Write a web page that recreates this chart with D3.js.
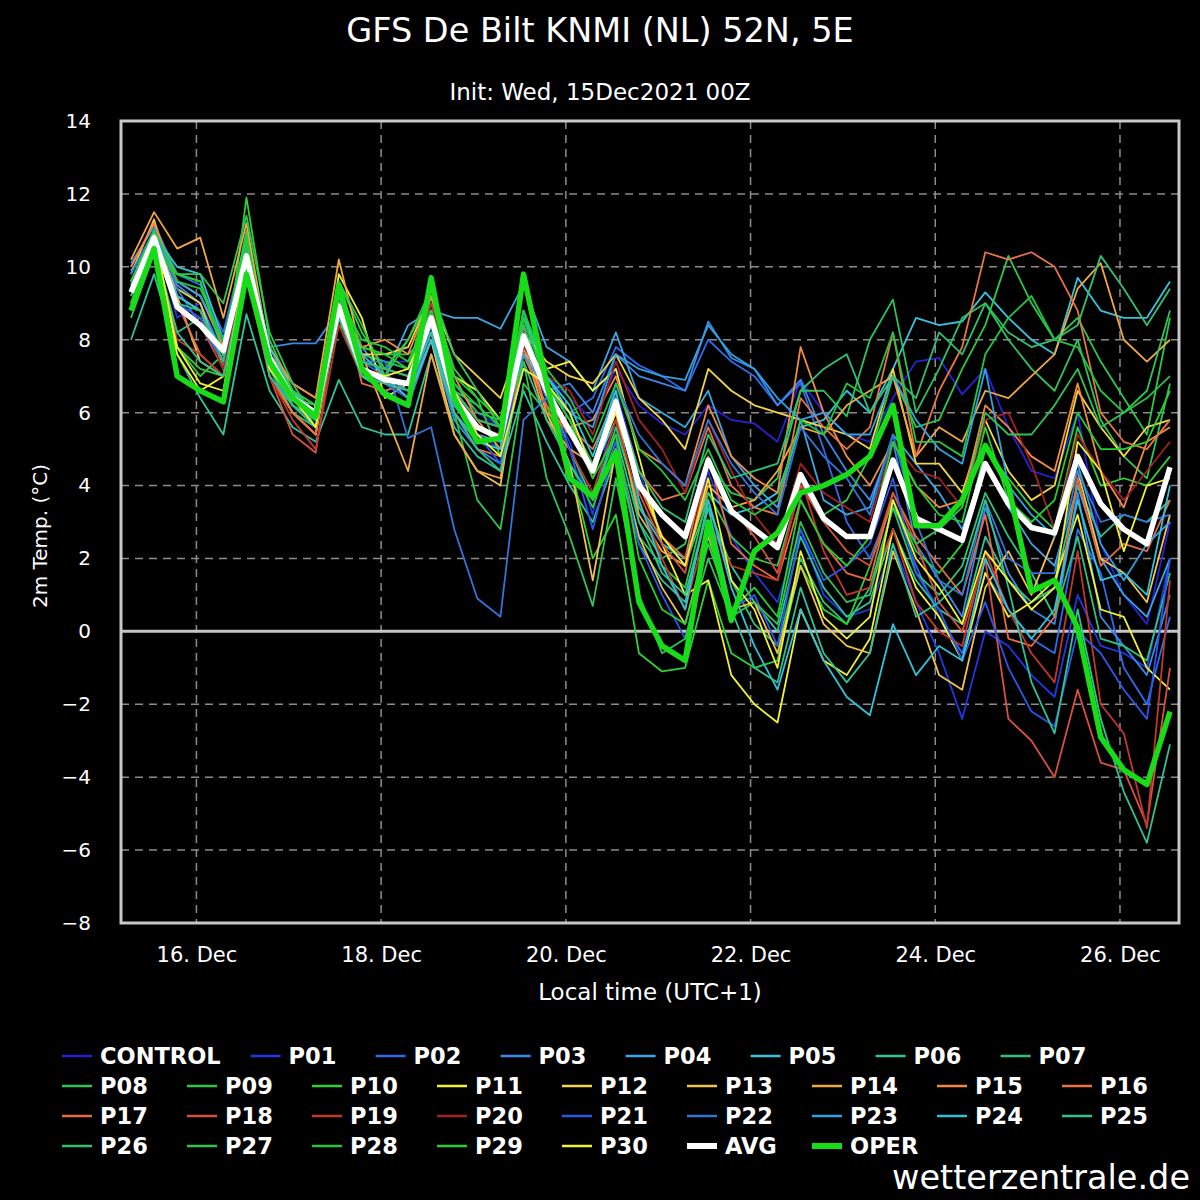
<!DOCTYPE html>
<html>
<head>
<meta charset="utf-8">
<title>GFS De Bilt KNMI (NL) 52N, 5E</title>
<script src="https://cdn.jsdelivr.net/npm/d3@7"></script>
<style>
  html, body { margin: 0; padding: 0; background: #000; }
  svg { display: block; font-family: 'DejaVu Sans', sans-serif; }
</style>
</head>
<body>
<div id="chart"></div>
<script>
'use strict';

//====================================================================
// Data: 2m temperature (°C), 6-hourly, local time (UTC+1).

var runStart = Date.UTC(2021, 11, 15, 7);
var stepHours = 6;
var tickDays = [16, 18, 20, 22, 24, 26];
var yTicks = [-8, -6, -4, -2, 0, 2, 4, 6, 8, 10, 12, 14];

var control = [9.8, 11.0, 9.6, 9.2, 8.0, 10.6, 7.8, 6.6, 6.2, 9.0, 7.6, 7.4, 7.4, 8.8, 6.8, 6.0, 5.6, 8.4, 7.0, 6.4, 5.8, 7.2, 6.2, 5.7, 5.4, 6.2, 5.8, 5.7, 5.2, 6.9, 6.0, 5.4, 5.2, 6.4, 7.4, 7.5, 6.5, 7.2, 5.6, 4.4, 4.2, 6.0, 2.4, 1.0, 0.2, 3.0];
var p01 = [9.6, 10.9, 8.6, 9.0, 7.4, 10.9, 7.2, 6.2, 5.8, 9.2, 7.0, 6.8, 6.6, 8.4, 6.2, 5.4, 5.0, 7.8, 6.4, 5.2, 3.2, 6.6, 4.4, 2.6, 1.8, 4.4, 2.6, 1.6, 0.8, 2.8, 1.0, 0.4, 0.6, 2.4, 0.8, -0.6, -2.4, 0.0, -0.4, -1.2, -1.8, 1.0, -0.4, -0.6, -1.0, 2.0];
var p02 = [10.0, 11.2, 9.8, 9.5, 8.2, 10.8, 7.6, 6.4, 6.0, 8.6, 7.4, 7.0, 6.4, 8.2, 6.0, 5.2, 5.0, 8.0, 6.8, 6.0, 6.4, 7.8, 7.3, 7.0, 6.6, 8.0, 7.4, 7.0, 6.2, 6.8, 5.0, 3.0, 2.0, 3.6, 1.8, 0.4, -0.6, 1.6, 0.6, -0.2, -0.6, 2.8, 1.6, -1.0, -2.0, 0.4];
var p03 = [10.1, 11.1, 9.5, 9.0, 7.6, 10.4, 7.8, 7.9, 7.9, 8.8, 7.0, 6.6, 6.2, 8.0, 5.8, 5.0, 4.6, 7.8, 6.6, 6.8, 6.0, 7.6, 7.0, 6.8, 6.6, 8.5, 7.5, 7.2, 6.2, 6.9, 5.4, 4.4, 3.6, 5.2, 2.4, 1.4, 0.4, 3.4, 1.6, 0.6, 0.2, 3.8, 0.4, -0.4, -1.2, 1.0];
var p04 = [9.9, 10.7, 9.2, 8.8, 7.2, 10.2, 7.4, 6.2, 5.6, 8.6, 7.8, 7.0, 8.4, 8.8, 8.6, 8.6, 8.3, 9.5, 7.8, 7.4, 6.6, 8.2, 6.4, 6.0, 5.6, 6.6, 4.8, 4.0, 3.4, 5.8, 3.6, 3.2, 3.4, 5.4, 4.6, 3.8, 2.8, 4.6, 3.4, 2.4, 1.8, 4.0, 2.0, 1.0, 0.4, 2.0];
var p05 = [9.5, 10.9, 10.0, 9.8, 8.0, 10.6, 7.6, 6.6, 6.2, 9.2, 7.4, 7.2, 7.0, 8.6, 6.6, 5.8, 5.6, 8.6, 7.0, 6.0, 4.4, 5.8, 3.4, 2.4, 2.0, 3.8, 3.2, 3.4, 3.8, 5.6, 5.8, 6.6, 6.0, 7.2, 8.6, 8.4, 8.5, 9.3, 8.6, 8.0, 7.6, 9.7, 8.8, 8.6, 8.6, 9.6];
var p06 = [8.0, 9.8, 7.6, 6.4, 5.4, 8.7, 6.6, 5.6, 5.2, 6.9, 5.6, 5.4, 5.4, 7.6, 5.6, 4.8, 4.4, 6.6, 5.2, 4.0, 3.0, 4.8, 2.4, 1.4, 0.8, 3.4, 1.8, 0.8, 0.0, 2.6, 1.2, 0.4, 0.8, 2.8, 1.4, 0.6, 0.2, 2.6, 1.4, 0.8, 1.2, 4.0, 2.6, 3.2, 3.0, 3.6];
var p07 = [9.2, 10.6, 8.2, 8.6, 7.6, 10.8, 7.2, 6.0, 5.6, 9.4, 7.0, 6.6, 6.8, 9.2, 6.6, 6.2, 5.6, 8.8, 6.6, 5.0, 3.6, 5.6, 3.4, 2.6, 1.8, 3.6, 1.4, 0.2, -0.4, 2.0, 0.8, 0.2, 1.2, 3.4, 1.6, 1.0, 1.8, 3.8, 2.6, 1.6, 0.4, 2.6, -0.2, -0.4, -0.8, 1.6];
var p08 = [9.0, 10.8, 9.8, 9.6, 7.8, 11.0, 7.4, 6.2, 5.8, 9.0, 7.6, 7.4, 7.2, 8.8, 6.8, 6.0, 5.8, 8.6, 6.8, 5.8, 4.6, 6.2, 3.0, 2.0, 2.4, 4.6, 3.8, 3.6, 4.2, 6.6, 6.6, 5.9, 8.0, 9.1, 6.0, 7.2, 8.6, 9.0, 8.0, 7.2, 6.6, 8.0, 5.8, 4.8, 4.2, 6.8];
var p09 = [9.4, 10.4, 7.8, 7.0, 7.6, 10.2, 7.2, 6.4, 6.2, 8.4, 7.8, 7.6, 7.6, 8.2, 6.0, 3.6, 2.8, 6.8, 6.0, 4.6, 3.4, 5.2, 2.6, 1.8, 1.2, 3.8, 2.6, 2.0, 1.8, 4.0, 3.2, 3.6, 4.8, 7.0, 5.6, 5.8, 7.2, 8.4, 10.3, 9.0, 8.0, 8.6, 7.4, 6.4, 5.4, 8.6];
var p10 = [8.8, 10.6, 7.8, 7.2, 7.0, 11.9, 8.0, 6.6, 5.6, 9.6, 8.2, 7.2, 8.0, 9.2, 7.2, 6.4, 4.8, 7.6, 6.2, 4.6, 2.0, 3.2, -0.6, -1.1, -1.0, 1.4, -0.6, -1.0, -0.8, 1.8, 0.6, 0.2, 1.8, 3.6, 2.2, 1.6, 2.4, 5.0, 4.2, 3.4, 2.8, 5.6, 4.0, 4.2, 4.0, 4.8];
var p11 = [9.4, 11.0, 7.6, 6.6, 7.0, 10.6, 7.0, 6.0, 5.4, 9.8, 8.6, 6.4, 6.8, 8.6, 7.0, 6.6, 5.8, 7.6, 7.2, 7.4, 6.6, 7.2, 4.8, 2.4, 1.0, 1.4, -1.2, -2.0, -2.5, 0.6, -0.8, -1.2, -0.2, 2.8, 1.2, 0.4, -0.8, 1.6, 0.4, 0.8, 1.4, 3.2, 0.6, 0.4, -1.0, -1.6];
var p12 = [9.6, 10.8, 9.4, 9.0, 7.2, 10.2, 7.6, 6.6, 6.0, 9.0, 7.6, 7.6, 7.8, 9.2, 7.6, 7.0, 6.4, 8.2, 7.4, 7.0, 6.8, 7.6, 6.4, 5.8, 5.0, 7.2, 6.6, 6.2, 6.0, 5.8, 5.6, 5.4, 5.0, 7.2, 4.6, 4.6, 3.8, 5.8, 4.4, 3.6, 4.0, 6.6, 5.6, 4.8, 5.6, 5.8];
var p13 = [9.8, 11.3, 9.2, 7.4, 7.0, 10.4, 7.0, 6.0, 5.4, 8.8, 7.0, 6.8, 6.4, 8.0, 5.4, 4.4, 4.0, 8.0, 6.0, 4.6, 1.4, 5.0, 2.6, 1.2, 0.2, 2.6, 0.6, 0.8, -0.6, 1.8, 0.2, -0.4, -0.6, 2.2, 0.6, -1.2, -1.6, 1.2, 2.2, 1.0, 2.6, 4.4, 2.0, 1.6, 0.8, 3.2];
var p14 = [10.2, 11.5, 10.5, 10.8, 8.6, 11.2, 7.6, 6.8, 6.4, 10.2, 7.6, 6.0, 4.4, 7.6, 5.4, 4.4, 4.2, 7.8, 5.8, 5.0, 4.6, 6.0, 3.2, 2.2, 1.8, 4.0, 3.4, 3.6, 4.4, 5.6, 5.4, 6.2, 6.6, 7.0, 4.8, 5.6, 5.2, 6.6, 6.4, 7.0, 7.6, 9.4, 10.1, 8.0, 7.4, 8.0];
var p15 = [10.0, 11.2, 9.6, 9.2, 7.8, 10.6, 7.8, 6.8, 6.4, 9.0, 7.8, 8.0, 7.6, 9.2, 7.0, 5.8, 5.0, 8.4, 6.0, 5.6, 5.8, 7.0, 5.0, 4.6, 4.0, 6.2, 4.8, 4.2, 3.8, 7.8, 6.0, 4.8, 4.0, 5.2, 4.0, 3.4, 3.6, 6.2, 5.6, 4.8, 4.4, 6.8, 4.4, 3.4, 5.2, 5.6];
var p16 = [9.6, 10.6, 9.2, 8.8, 7.4, 10.0, 7.6, 6.4, 5.6, 8.6, 7.0, 7.0, 6.8, 8.4, 6.6, 5.8, 5.6, 7.8, 6.6, 5.6, 5.0, 6.4, 4.4, 3.6, 3.8, 5.6, 4.0, 3.4, 3.2, 6.4, 5.6, 5.0, 5.6, 8.2, 4.8, 6.6, 7.8, 10.4, 10.2, 10.4, 10.0, 8.8, 6.0, 5.2, 5.0, 5.8];
var p17 = [9.4, 10.8, 9.0, 7.6, 7.0, 9.8, 7.0, 6.0, 5.4, 9.4, 6.8, 6.6, 6.8, 8.6, 6.0, 5.0, 4.8, 7.6, 6.2, 5.4, 4.6, 6.4, 4.0, 2.6, 2.0, 4.8, 2.4, 1.8, 1.4, 3.6, 2.4, 1.6, 1.4, 3.8, 2.6, 1.8, 1.0, 3.2, -0.2, -0.4, 0.4, 4.2, 1.8, 2.4, 2.2, 3.6];
var p18 = [9.0, 10.6, 9.0, 8.4, 7.2, 10.4, 7.0, 5.4, 4.9, 9.0, 7.2, 7.0, 6.6, 8.4, 6.2, 5.4, 5.2, 8.0, 6.4, 5.6, 4.2, 6.2, 3.8, 2.4, 1.6, 4.6, 3.4, 2.6, 1.6, 4.0, 3.0, 2.2, 1.8, 3.8, 2.4, 0.8, 0.0, 2.0, -2.4, -3.0, -4.0, -1.6, -3.6, -3.8, -5.3, -1.0];
var p19 = [9.4, 10.4, 8.0, 7.6, 7.0, 9.8, 7.0, 5.8, 5.0, 8.4, 7.0, 7.2, 7.0, 9.0, 6.6, 5.6, 5.4, 8.2, 6.4, 5.0, 3.8, 5.8, 3.6, 2.0, 0.6, 3.0, 1.8, 1.6, 1.4, 4.2, 2.2, 1.0, 1.2, 2.8, 0.8, 0.0, -0.4, 2.2, 0.6, -0.6, -1.4, 2.2, -2.0, -2.8, -5.4, 1.4];
var p20 = [9.2, 10.6, 8.8, 8.6, 7.2, 10.2, 7.4, 6.6, 6.2, 8.8, 7.2, 6.8, 6.8, 8.4, 6.4, 5.8, 5.6, 7.8, 7.0, 6.6, 5.4, 7.4, 5.8, 5.0, 3.8, 5.8, 4.4, 3.2, 2.4, 4.6, 3.8, 3.4, 3.0, 5.2, 4.4, 4.2, 3.4, 5.8, 6.0, 4.6, 2.8, 5.4, 4.4, 3.6, 4.4, 5.2];
var p21 = [9.6, 10.8, 9.0, 8.6, 7.4, 10.4, 7.6, 6.4, 6.0, 8.8, 7.2, 6.8, 6.4, 8.4, 6.2, 5.4, 4.6, 8.0, 6.4, 5.0, 2.8, 5.2, 2.4, 1.0, -0.2, 2.4, 0.6, 1.0, -0.4, 2.8, 1.4, 1.8, 2.4, 4.2, 1.6, 0.6, -0.8, 0.8, -1.0, -2.2, -2.6, 0.0, -0.6, -1.6, -2.4, 2.0];
var p22 = [9.8, 11.0, 9.4, 8.4, 7.4, 10.6, 7.6, 6.4, 5.8, 8.8, 7.4, 7.4, 5.3, 5.6, 2.8, 0.9, 0.4, 5.8, 6.4, 5.6, 4.4, 6.8, 5.4, 4.6, 4.0, 5.8, 4.6, 3.8, 3.2, 5.6, 4.8, 4.2, 3.2, 5.4, 3.0, 1.4, 1.0, 3.6, 2.0, 1.6, 1.6, 4.4, 3.0, 3.2, 3.0, 3.2];
var p23 = [9.6, 11.0, 9.6, 9.2, 8.0, 10.4, 7.4, 6.2, 5.8, 8.8, 7.2, 7.0, 6.6, 8.4, 6.2, 5.4, 5.2, 7.6, 6.6, 6.0, 5.6, 7.6, 7.2, 7.0, 6.9, 8.4, 7.6, 7.2, 6.4, 5.8, 6.0, 5.4, 5.4, 7.0, 5.8, 5.0, 4.6, 7.2, 4.0, 3.2, 2.6, 4.6, 2.4, 1.4, 2.4, 3.0];
var p24 = [9.4, 10.8, 9.2, 8.8, 7.6, 10.6, 7.8, 6.6, 6.0, 9.2, 7.6, 7.0, 6.4, 8.0, 6.0, 5.2, 5.0, 8.8, 7.0, 6.2, 4.8, 6.6, 3.6, 1.8, 0.6, 3.6, 1.2, -0.4, -1.6, 0.6, -0.8, -1.8, -2.3, 0.2, -1.2, -0.4, -0.8, 2.0, 0.6, -0.2, 0.6, 3.6, 1.4, 1.6, 1.0, 4.0];
var p25 = [9.0, 10.4, 8.2, 7.4, 7.0, 10.0, 7.0, 6.2, 5.6, 8.6, 7.0, 6.8, 6.6, 8.2, 6.0, 5.0, 4.4, 7.4, 5.8, 4.6, 3.6, 5.4, 3.0, 1.6, 1.0, 3.4, 0.6, -1.0, -1.4, 1.2, -0.6, -1.4, -0.6, 2.4, 0.4, 0.8, 1.4, 3.6, 1.2, -1.4, -2.8, 0.6, -2.4, -4.4, -5.8, -3.1];
var p26 = [9.2, 10.6, 9.0, 8.8, 7.4, 10.8, 7.2, 6.2, 5.8, 9.0, 7.4, 7.2, 7.0, 8.8, 6.6, 5.8, 5.6, 8.4, 6.6, 5.4, 4.6, 6.4, 4.4, 3.4, 3.0, 5.4, 4.2, 4.4, 4.6, 6.6, 7.2, 7.6, 6.0, 7.0, 6.4, 8.2, 7.6, 9.0, 8.2, 7.8, 8.0, 8.4, 10.3, 9.4, 8.4, 9.4];
var p27 = [8.6, 10.4, 9.8, 9.8, 9.0, 11.4, 8.2, 6.8, 5.8, 9.6, 8.4, 7.0, 8.0, 9.4, 7.6, 6.6, 5.6, 7.4, 4.2, 2.6, 0.7, 4.2, 1.0, -0.6, -0.2, 2.0, 0.4, 0.8, 0.2, 3.0, 1.6, 0.8, 1.0, 3.4, 2.4, 2.8, 3.4, 6.0, 5.4, 5.4, 6.2, 7.2, 5.6, 6.0, 6.6, 8.8];
var p28 = [9.0, 10.8, 9.6, 9.4, 8.0, 10.6, 7.6, 6.4, 5.8, 9.2, 8.0, 7.8, 7.4, 8.8, 6.8, 6.2, 5.6, 8.8, 7.2, 6.4, 5.2, 6.8, 5.0, 4.4, 3.6, 5.0, 3.6, 3.2, 3.6, 5.8, 5.4, 6.8, 6.4, 8.2, 5.2, 5.2, 4.8, 7.6, 8.6, 9.2, 8.0, 7.8, 6.6, 6.0, 6.4, 7.0];
var p29 = [9.6, 11.0, 9.8, 9.6, 7.6, 10.8, 7.6, 6.6, 6.2, 9.4, 7.8, 7.6, 7.2, 9.4, 7.0, 6.4, 5.8, 8.6, 6.8, 5.8, 4.2, 5.4, 2.0, 0.6, 0.2, 2.4, 0.6, 1.2, 0.4, 3.6, 2.4, 1.8, 2.6, 5.2, 4.0, 3.2, 3.0, 5.6, 3.6, 3.0, 3.6, 6.0, 5.0, 5.0, 5.2, 6.6];
var p30 = [9.4, 10.8, 7.8, 6.8, 6.6, 10.2, 7.2, 6.4, 5.6, 9.0, 7.2, 7.0, 7.2, 8.6, 6.6, 5.4, 4.8, 7.2, 6.8, 6.0, 4.4, 6.0, 4.2, 2.6, 1.8, 4.2, 1.4, 0.6, -1.0, 2.2, 0.4, -0.2, 0.4, 3.6, 2.0, 1.2, 0.2, 2.2, 1.4, 0.6, 1.2, 5.2, 4.4, 2.2, 4.0, 4.2];

var avg = [9.3, 10.8, 8.9, 8.4, 7.7, 10.3, 7.5, 6.4, 6.0, 8.9, 7.2, 6.9, 6.8, 8.6, 6.4, 5.6, 5.3, 8.1, 6.6, 5.5, 4.4, 6.3, 4.0, 3.2, 2.6, 4.7, 3.3, 2.8, 2.3, 4.3, 3.1, 2.6, 2.6, 4.7, 3.1, 2.8, 2.5, 4.6, 3.5, 2.85, 2.7, 4.8, 3.5, 2.8, 2.4, 4.5];
var oper = [8.8, 10.5, 7.0, 6.6, 6.3, 9.8, 7.4, 6.4, 5.9, 9.5, 7.2, 6.5, 6.2, 9.7, 6.4, 5.2, 5.3, 9.8, 6.8, 4.2, 3.7, 4.9, 0.8, -0.4, -0.8, 3.0, 0.3, 2.2, 2.7, 3.8, 4.0, 4.3, 4.8, 6.2, 2.9, 2.9, 3.6, 5.1, 4.0, 1.1, 1.4, 0.1, -2.9, -3.8, -4.2, -2.2];

var memberNames = ['CONTROL', 'P01', 'P02', 'P03', 'P04', 'P05', 'P06', 'P07', 'P08', 'P09', 'P10',
  'P11', 'P12', 'P13', 'P14', 'P15', 'P16', 'P17', 'P18', 'P19', 'P20',
  'P21', 'P22', 'P23', 'P24', 'P25', 'P26', 'P27', 'P28', 'P29', 'P30'];
var memberValues = [control, p01, p02, p03, p04, p05, p06, p07, p08, p09, p10,
  p11, p12, p13, p14, p15, p16, p17, p18, p19, p20,
  p21, p22, p23, p24, p25, p26, p27, p28, p29, p30];

//====================================================================
// Styles

var memberColors = ['#2a1fd2', '#2038e4', '#2f6be8', '#3a88e6', '#3aa6e4', '#38c2e0', '#2ec49a', '#2ec47a',
  '#2ec45a', '#2ec848', '#2ed036', '#f2f232', '#f2d444', '#f0c24e', '#f0a842', '#f08c42', '#e87442',
  '#e86a40', '#d85040', '#c0382a', '#a02222', '#2a58e8', '#3074d8', '#30a2e2', '#30c2d8', '#30c292',
  '#30c072', '#30c452', '#22c440', '#22d032', '#f0f034'];

var width = 1200;
var height = 1200;
var plot = { left: 121, right: 1179, top: 121, bottom: 923 };

//====================================================================

var times = control.map(function (d, i) {
  return new Date(runStart + i * stepHours * 3600e3);
});

var x = d3.scaleUtc()
  .domain([times[0], times[times.length - 1]])
  .range([131, 1170]);

var y = d3.scaleLinear()
  .domain([-8, 14])
  .range([plot.bottom, plot.top]);

var line = d3.line()
  .x(function (d, i) { return x(times[i]); })
  .y(function (d) { return y(d); });

var svg = d3.select('#chart').append('svg')
  .attr('xmlns', 'http://www.w3.org/2000/svg')
  .attr('width', width)
  .attr('height', height);

svg.append('rect')
  .attr('width', width)
  .attr('height', height)
  .attr('fill', '#000');

// Titles
svg.append('text')
  .attr('x', 600).attr('y', 42)
  .attr('text-anchor', 'middle')
  .attr('fill', '#fff')
  .style('font-size', '33.5px')
  .text('GFS De Bilt KNMI (NL) 52N, 5E');

svg.append('text')
  .attr('x', 600).attr('y', 100)
  .attr('text-anchor', 'middle')
  .attr('fill', '#fff')
  .style('font-size', '23px')
  .text('Init: Wed, 15Dec2021 00Z');

//====================================================================
// Grid

var tickDates = tickDays.map(function (d) { return new Date(Date.UTC(2021, 11, d)); });

var grid = svg.append('g')
  .attr('stroke', '#8c8c8c')
  .attr('stroke-width', 1.5)
  .attr('stroke-dasharray', '8,6');

grid.selectAll('line.h')
  .data(yTicks.filter(function (v) { return v > -8 && v < 14 && v !== 0; }))
  .enter().append('line')
  .attr('class', 'h')
  .attr('x1', plot.left).attr('x2', plot.right)
  .attr('y1', y).attr('y2', y);

grid.selectAll('line.v')
  .data(tickDates)
  .enter().append('line')
  .attr('class', 'v')
  .attr('x1', x).attr('x2', x)
  .attr('y1', plot.top).attr('y2', plot.bottom);

svg.append('line')
  .attr('x1', plot.left).attr('x2', plot.right)
  .attr('y1', y(0)).attr('y2', y(0))
  .attr('stroke', '#c4c4c4')
  .attr('stroke-width', 3);

//====================================================================
// Series

svg.append('clipPath').attr('id', 'clip')
  .append('rect')
  .attr('x', plot.left).attr('y', plot.top)
  .attr('width', plot.right - plot.left)
  .attr('height', plot.bottom - plot.top);

var series = svg.append('g').attr('clip-path', 'url(#clip)');

series.selectAll('path.member')
  .data(memberValues)
  .enter().append('path')
  .attr('class', 'member')
  .attr('d', line)
  .attr('fill', 'none')
  .attr('stroke', function (d, i) { return memberColors[i]; })
  .attr('stroke-width', 1.8)
  .attr('stroke-linejoin', 'round');

series.append('path')
  .attr('d', line(avg))
  .attr('fill', 'none')
  .attr('stroke', '#fff')
  .attr('stroke-width', 5.5)
  .attr('stroke-linejoin', 'round');

series.append('path')
  .attr('d', line(oper))
  .attr('fill', 'none')
  .attr('stroke', '#18dc18')
  .attr('stroke-width', 5.5)
  .attr('stroke-linejoin', 'round');

// Frame
svg.append('rect')
  .attr('x', plot.left).attr('y', plot.top)
  .attr('width', plot.right - plot.left)
  .attr('height', plot.bottom - plot.top)
  .attr('fill', 'none')
  .attr('stroke', '#c8c8c8')
  .attr('stroke-width', 3);

//====================================================================
// Axes

var yAxis = svg.append('g')
  .attr('transform', 'translate(' + plot.left + ',0)')
  .call(d3.axisLeft(y).tickValues(yTicks).tickSize(0).tickPadding(30));

var xAxis = svg.append('g')
  .attr('transform', 'translate(0,' + plot.bottom + ')')
  .call(d3.axisBottom(x).tickValues(tickDates).tickSize(0).tickPadding(24)
    .tickFormat(d3.utcFormat('%d. %b')));

yAxis.selectAll('text').style('font-size', '20px');
xAxis.selectAll('text').style('font-size', '21px');

[yAxis, xAxis].forEach(function ($axis) {
  $axis.select('.domain').remove();
  $axis.selectAll('text')
    .attr('fill', '#fff')
    .style('font-family', "'DejaVu Sans', sans-serif");
});

svg.append('text')
  .attr('transform', 'translate(47,536) rotate(-90)')
  .attr('text-anchor', 'middle')
  .attr('fill', '#fff')
  .style('font-size', '20px')
  .text('2m Temp. (°C)');

svg.append('text')
  .attr('x', 650).attr('y', 1000)
  .attr('text-anchor', 'middle')
  .attr('fill', '#fff')
  .style('font-size', '23px')
  .text('Local time (UTC+1)');

//====================================================================
// Legend (flows left to right, wraps like the original)

var legendItems = memberNames.map(function (name, i) {
  return { name: name, color: memberColors[i], width: 2.5 };
}).concat([
  { name: 'AVG', color: '#fff', width: 6 },
  { name: 'OPER', color: '#18dc18', width: 6 }
]);

var legend = svg.append('g');
var lx = 100;
var ly = 1056;

legendItems.forEach(function (item) {
  var $item = legend.append('g');
  var $text = $item.append('text')
    .attr('y', 8)
    .attr('fill', '#fff')
    .style('font-size', '22.5px')
    .style('font-weight', 'bold')
    .text(item.name);
  var w = $text.node().getComputedTextLength();

  if (lx > 1110) {
    lx = 100;
    ly += 30;
  }
  $item.attr('transform', 'translate(' + lx + ',' + ly + ')');
  $item.append('line')
    .attr('x1', -38).attr('x2', -8)
    .attr('stroke', item.color)
    .attr('stroke-width', item.width);

  lx += Math.max(125, w + 68);
});

svg.append('text')
  .attr('x', 1190).attr('y', 1189)
  .attr('text-anchor', 'end')
  .attr('fill', '#fff')
  .style('font-size', '33.5px')
  .text('wetterzentrale.de');
</script>
</body>
</html>
